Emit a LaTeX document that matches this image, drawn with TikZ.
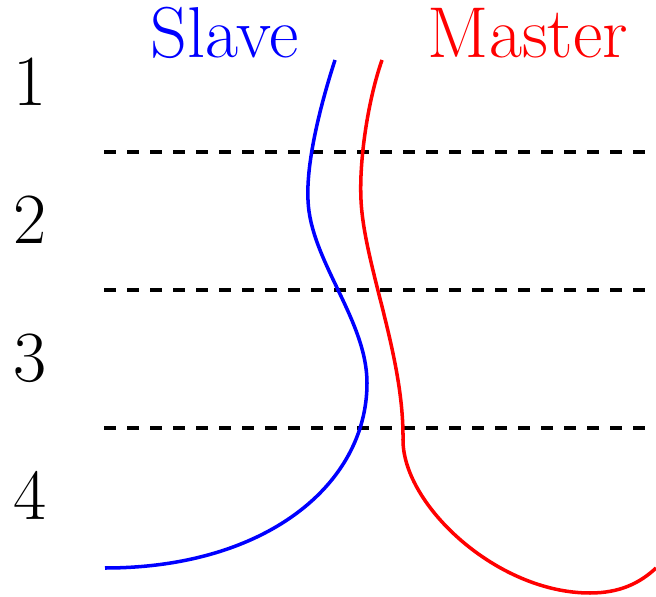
\documentclass[tikz,border=0pt]{standalone}
\begin{document}
\begin{tikzpicture}[x=0.02cm,y=-0.02cm,
  lbl/.style={inner sep=0pt,anchor=base,font=\fontsize{41}{48}\selectfont},
  sep/.style={black,line width=2.2pt,dash pattern=on 6.8pt off 6.3pt},
  curve/.style={line width=2pt}]
\useasboundingbox (0,0) rectangle (656,597);
% labels
\node[lbl] (n1) at (30,106) {1};
\node[lbl] (n2) at (30,244) {2};
\node[lbl] (n3) at (30,382) {3};
\node[lbl] (n4) at (30,520) {4};
\node[lbl,text=blue] (slave) at (225,58) {Slave};
\node[lbl,text=red] (master) at (528,58) {Master};
% separators
\draw[sep] (104,152) -- (652,152);
\draw[sep] (104,290) -- (652,290);
\draw[sep] (104,428) -- (652,428);
% slave curve
\draw[curve,blue] (335,60) .. controls (322,100) and (306,160) .. (308,200)
  .. controls (310,260) and (367,320) .. (367,383)
  .. controls (367,485) and (265,568) .. (105,568);
% master curve
\draw[curve,red] (382,60) .. controls (368,100) and (359,160) .. (361,200)
  .. controls (364,265) and (404,355) .. (403,440)
  .. controls (403,505) and (497,593) .. (590,593)
  .. controls (620,593) and (640,583) .. (656,568);
\end{tikzpicture}
\end{document}
